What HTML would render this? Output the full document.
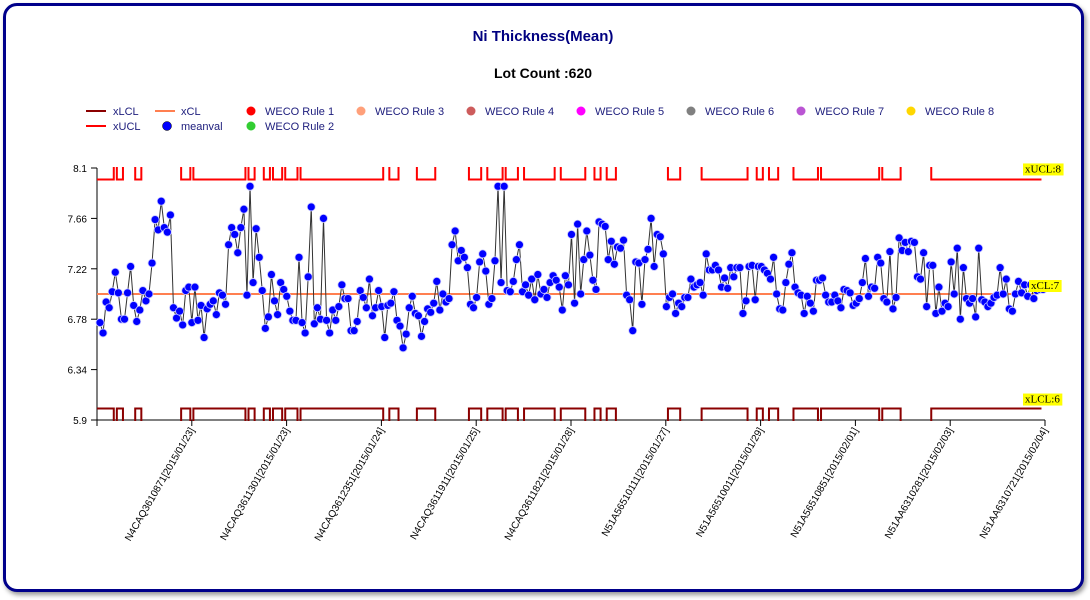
<!DOCTYPE html>
<html><head><meta charset="utf-8"><style>
html,body{margin:0;padding:0;background:#fff;width:1090px;height:600px;overflow:hidden;font-family:"Liberation Sans",sans-serif}
#frame{position:absolute;left:3px;top:3px;width:1075px;height:583px;border:3px solid #00008b;border-radius:14px;box-shadow:2px 3px 5px #999;background:#fff}
svg{position:absolute;left:0;top:0}
</style></head><body>
<div id="frame"></div>
<svg id="chart" width="1090" height="600" font-family="Liberation Sans, sans-serif">
<text x="543" y="41" text-anchor="middle" font-size="15" font-weight="bold" fill="#000080">Ni Thickness(Mean)</text>
<text x="543" y="78" text-anchor="middle" font-size="14" font-weight="bold" fill="#000">Lot Count :620</text>
<g id="legend" font-size="11" fill="#1c1c7c">
<g><line x1="86" y1="111" x2="106" y2="111" stroke="#8b0000" stroke-width="2"/><text x="113" y="115">xLCL</text></g>
<g><line x1="86" y1="126" x2="106" y2="126" stroke="#ff0000" stroke-width="2"/><text x="113" y="130">xUCL</text></g>
<g><line x1="155" y1="111" x2="175" y2="111" stroke="#ff7f50" stroke-width="2"/><text x="181" y="115">xCL</text></g>
<g><circle cx="167" cy="126" r="4.5" fill="#0000ff" stroke="#000" stroke-width="0.5"/><text x="181" y="130">meanval</text></g>
<g><circle cx="251" cy="111" r="4.5" fill="#ff0000"/><text x="265" y="115">WECO Rule 1</text></g>
<g><circle cx="251" cy="126" r="4.5" fill="#32cd32"/><text x="265" y="130">WECO Rule 2</text></g>
<g><circle cx="361" cy="111" r="4.5" fill="#ffa07a"/><text x="375" y="115">WECO Rule 3</text></g>
<g><circle cx="471" cy="111" r="4.5" fill="#cd5c5c"/><text x="485" y="115">WECO Rule 4</text></g>
<g><circle cx="581" cy="111" r="4.5" fill="#ff00ff"/><text x="595" y="115">WECO Rule 5</text></g>
<g><circle cx="691" cy="111" r="4.5" fill="#808080"/><text x="705" y="115">WECO Rule 6</text></g>
<g><circle cx="801" cy="111" r="4.5" fill="#ba55d3"/><text x="815" y="115">WECO Rule 7</text></g>
<g><circle cx="911" cy="111" r="4.5" fill="#ffd700"/><text x="925" y="115">WECO Rule 8</text></g>
</g>
<defs><clipPath id="plotclip"><rect x="97" y="167" width="950" height="254"/></clipPath></defs>
<g id="plot"></g>
</svg>
<script>
const yTicks=[8.1,7.66,7.22,6.78,6.34,5.9];
const xLabels=["N4CAQ3610871[2015/01/23]","N4CAQ3611301[2015/01/23]","N4CAQ3612351[2015/01/24]","N4CAQ3611911[2015/01/25]","N4CAQ3611821[2015/01/28]","N51A56510111[2015/01/27]","N51A56510011[2015/01/29]","N51A56510851[2015/02/01]","N51AA6310281[2015/02/03]","N51AA6310721[2015/02/04]"];
const meanval=[6.75,6.66,6.93,6.88,7.02,7.19,7.01,6.78,6.78,7.01,7.24,6.90,6.76,6.86,7.03,6.94,7.00,7.27,7.65,7.56,7.81,7.58,7.54,7.69,6.88,6.79,6.85,6.73,7.03,7.06,6.75,7.06,6.77,6.90,6.62,6.87,6.91,6.94,6.82,7.01,6.99,6.91,7.43,7.58,7.52,7.36,7.58,7.74,6.99,7.94,7.10,7.57,7.32,7.03,6.70,6.80,7.17,6.94,6.82,7.10,7.04,6.98,6.85,6.77,6.77,7.32,6.75,6.66,7.15,7.76,6.74,6.88,6.78,7.66,6.77,6.66,6.86,6.77,6.89,7.08,6.96,6.96,6.68,6.68,6.76,7.03,6.97,6.88,7.13,6.81,6.88,7.03,6.89,6.62,6.90,6.92,7.02,6.77,6.72,6.53,6.65,6.88,6.98,6.83,6.81,6.63,
6.76,6.87,6.84,6.92,7.11,6.86,7.00,6.93,6.96,7.43,7.55,7.29,7.38,7.32,7.23,6.91,6.88,6.97,7.28,7.35,7.20,6.91,6.96,7.29,7.94,7.10,7.94,7.03,7.02,7.11,7.30,7.43,7.02,7.08,6.99,7.13,6.95,7.17,7.00,7.04,6.97,7.10,7.16,7.12,7.06,6.86,7.16,7.08,7.52,6.92,7.61,7.00,7.30,7.55,7.34,7.12,7.04,7.63,7.61,7.59,7.30,7.46,7.26,7.41,7.40,7.47,6.99,6.95,6.68,7.28,7.27,6.91,7.30,7.39,7.66,7.24,7.52,7.50,7.35,6.89,6.97,7.00,6.83,6.92,6.89,6.97,6.97,7.13,7.06,7.08,7.10,6.99,7.35,7.21,7.21,7.25,7.21,7.06,7.14,7.05,7.23,7.15,7.23,7.23,6.83,6.94,7.24,7.25,
6.95,7.24,7.24,7.21,7.18,7.13,7.32,7.00,6.87,6.86,7.10,7.26,7.36,7.06,7.01,6.99,6.83,6.98,6.92,6.85,7.12,7.12,7.14,6.99,6.93,6.93,6.99,6.94,6.88,7.04,7.03,7.01,6.90,6.92,6.96,7.10,7.31,6.98,7.06,7.05,7.32,7.27,6.96,6.93,7.37,6.87,6.97,7.49,7.38,7.45,7.37,7.46,7.45,7.15,7.13,7.36,6.89,7.25,7.25,6.83,7.06,6.85,6.92,6.89,7.28,7.00,7.40,6.78,7.23,6.96,6.92,6.96,6.80,7.40,6.95,6.93,6.89,6.92,6.97,6.99,7.23,7.00,7.13,6.87,6.85,7.00,7.11,7.01,7.08,6.98,7.08,6.96,7.03,7.04,7.04];
const clValue=7, uclValue=8, lclValue=6;
const inControlRanges=[[0,2],[3,4],[6,7],[12,13],[27,29],[31,35],[36,37],[38,41],[42,44],[45,47],[49,50],[54,55],[57,59],[61,64],[66,69],[70,74],[75,86],[87,89],[90,92],[95,97],[104,109],[121,124],[127,128],[129,131],[133,136],[139,140],[141,143],[144,148],[151,152],[153,155],[156,158],[162,163],[166,168],[186,189],[197,211],[215,216],[219,221],[227,234],[236,250],[251,254],[256,257],[258,261],[272,273],[274,282],[283,283],[284,284],[285,288],[289,312]];

const NS="http://www.w3.org/2000/svg";
const plot=document.getElementById('plot');
const X0=97,X1=1045,Y0=168,Y1=420,YMIN=5.9,YMAX=8.1;
const N=meanval.length;
function xs(i){return 100+i*(1043-100)/(N-1);}
function ys(v){return Y0+(YMAX-v)/(YMAX-YMIN)*(Y1-Y0);}
function mk(tag,attrs,parent){const e=document.createElementNS(NS,tag);for(const k in attrs)e.setAttribute(k,attrs[k]);(parent||plot).appendChild(e);return e;}
// axes
const ax=mk('g',{});


mk('line',{x1:X0,y1:Y0,x2:X0,y2:Y1,stroke:'#000'},ax);
yTicks.forEach(t=>{const y=ys(t);mk('line',{x1:X0-6,y1:y,x2:X0,y2:y,stroke:'#000'},ax);
 const tx=mk('text',{x:X0-10,y:y+4,'text-anchor':'end','font-size':10,fill:'#000'},ax);tx.textContent=t;
 
 });
const xa=mk('g',{});


mk('line',{x1:X0,y1:Y1,x2:X1,y2:Y1,stroke:'#000'},xa);
const step=(X1-X0)/10;
for(let k=0;k<=10;k++){const x=X0+k*step;mk('line',{x1:x,y1:Y1,x2:x,y2:Y1+6,stroke:'#000'},xa);
 if(k>0){const tx=mk('text',{x:0,y:0,'text-anchor':'end','font-size':10,fill:'#000',transform:`translate(${x+3},${Y1+10}) rotate(-60)`},xa);tx.textContent=xLabels[k-1];
 
 }}
// control limit step lines
function inCtl(i){return inControlRanges.some(r=>i>=r[0]&&i<=r[1]);}
function stepPath(base,off){let d='';for(let i=0;i<N;i++){const v=inCtl(i)?base:off;const y=ys(v);const xa_=i===0?X0:(xs(i-1)+xs(i))/2;const xb=i===N-1?X1-8:(xs(i)+xs(i+1))/2;d+=(i===0?'M':'L')+xa_+','+y+'L'+xb+','+y;}return d;}
const ucl=mk('path',{d:stepPath(uclValue,8.5),fill:'none',stroke:'#ff0000','stroke-width':2,'clip-path':'url(#plotclip)'});


const lcl=mk('path',{d:stepPath(lclValue,5.5),fill:'none',stroke:'#8b0000','stroke-width':2,'clip-path':'url(#plotclip)'});


const cl=mk('line',{x1:X0,y1:ys(clValue),x2:X1-8,y2:ys(clValue),stroke:'#ff7f50','stroke-width':2});


// series
let d='';meanval.forEach((v,i)=>{d+=(i?'L':'M')+xs(i)+','+ys(v);});
const ln=mk('path',{d:d,fill:'none',stroke:'#333','stroke-width':1});


const pts=mk('g',{});


meanval.forEach((v,i)=>{const c=mk('circle',{cx:xs(i),cy:ys(v),r:4,fill:'#0000ff',stroke:'#c8c8ff','stroke-width':0.8},pts);
 
 });
// limit labels
function lab(txt,x,y,name){const g=mk('g',{});
 
 
 const t=mk('text',{x:x,y:y,'font-size':11,'font-family':'Liberation Serif, serif',fill:'#000'},g);t.textContent=txt;
 const bb=t.getBBox();const r=mk('rect',{x:bb.x-2,y:bb.y,width:bb.width+4,height:bb.height,fill:'#ffff00'},g);g.insertBefore(r,t);}
lab('xUCL:'+uclValue,1025,ys(uclValue)-7,'xucl-label');
lab('xCL:'+clValue,1031,ys(clValue)-5,'xcl-label');
lab('xLCL:'+lclValue,1025,ys(lclValue)-6,'xlcl-label');
</script>
</body></html>
